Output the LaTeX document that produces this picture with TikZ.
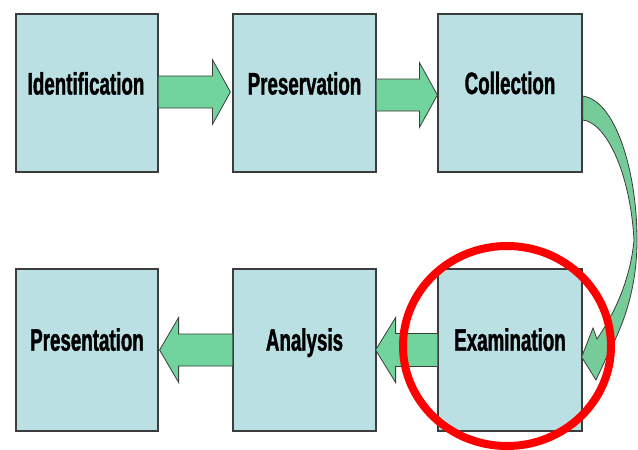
\documentclass[tikz,border=0pt]{standalone}
\usepackage{fontspec}
\newfontfamily\labfont[FakeStretch=0.605,FakeBold=1.2]{Liberation Sans}
\usetikzlibrary{calc,shapes.geometric}
\definecolor{boxfill}{RGB}{186,224,228}
\definecolor{arrowfill}{RGB}{112,212,156}
\definecolor{curvefill}{RGB}{118,204,152}
\definecolor{edgegray}{RGB}{60,60,60}
\tikzset{
  stagebox/.style={draw=edgegray, line width=1.2pt, fill=boxfill, rectangle, inner sep=0pt},
  stagelabel/.style={font=\labfont\bfseries\fontsize{31}{33}\selectfont, text=black, inner sep=0pt, anchor=base},
  blockarrow/.style={draw=edgegray, line width=0.8pt, fill=arrowfill, line join=miter},
  ring/.style={draw=red, line width=8pt}
}
\begin{document}
\begin{tikzpicture}[x=1pt,y=-1pt]
\useasboundingbox (0,0) rectangle (638,450);
% boxes (top row y 14..172, bottom row y 269..431)
\node[stagebox, minimum width=142pt, minimum height=158pt] (ident) at (87,93) {};
\node[stagebox, minimum width=143pt, minimum height=158pt] (pres) at (304.5,93) {};
\node[stagebox, minimum width=144pt, minimum height=158pt] (coll) at (510,93) {};
\node[stagebox, minimum width=142pt, minimum height=162pt] (prsn) at (87,350) {};
\node[stagebox, minimum width=143pt, minimum height=162pt] (anal) at (304.5,350) {};
\node[stagebox, minimum width=144pt, minimum height=162pt] (exam) at (510,350) {};
% labels (placed on their baselines)
\node[stagelabel] (identT) at ($(ident.center)+(-1,1.5)$) {Identification};
\node[stagelabel] (presT) at ($(pres.center)+(0,1.5)$) {Preservation};
\node[stagelabel] (collT) at ($(coll.center)+(0,1)$) {Collection};
\node[stagelabel] (prsnT) at ($(prsn.center)+(0,0.7)$) {Presentation};
\node[stagelabel] (analT) at ($(anal.center)+(0,0.7)$) {Analysis};
\node[stagelabel] (examT) at ($(exam.center)+(0,0.7)$) {Examination};
% straight block arrows
% Identification -> Preservation
\draw[blockarrow] ($(ident.east)+(0,-1-16)$) -- ($(pres.west)+(-20,-1-16)$) -- ($(pres.west)+(-20,-1-32.5)$)
  -- ($(pres.west)+(-2,-1)$) -- ($(pres.west)+(-20,-1+32.5)$) -- ($(pres.west)+(-20,-1+16)$) -- ($(ident.east)+(0,-1+16)$);
% Preservation -> Collection
\draw[blockarrow] ($(pres.east)+(0,2-16)$) -- ($(coll.west)+(-18,2-16)$) -- ($(coll.west)+(-18,2-32.5)$)
  -- ($(coll.west)+(0,2)$) -- ($(coll.west)+(-18,2+32.5)$) -- ($(coll.west)+(-18,2+16)$) -- ($(pres.east)+(0,2+16)$);
% Examination -> Analysis
\draw[blockarrow] ($(exam.west)+(0,-16.5)$) -- ($(anal.east)+(19,-16.5)$) -- ($(anal.east)+(19,-32.5)$)
  -- ($(anal.east)+(-1,0)$) -- ($(anal.east)+(19,32.5)$) -- ($(anal.east)+(19,16.5)$) -- ($(exam.west)+(0,16.5)$);
% Analysis -> Presentation
\draw[blockarrow] ($(anal.west)+(0,-16)$) -- ($(prsn.east)+(20,-16)$) -- ($(prsn.east)+(20,-32.5)$)
  -- ($(prsn.east)+(1,0)$) -- ($(prsn.east)+(20,32.5)$) -- ($(prsn.east)+(20,16)$) -- ($(anal.west)+(0,16)$);
% curved arrow Collection -> Examination
\coordinate (cA) at ($(coll.east)+(0,3)$);
\coordinate (cB) at ($(coll.east)+(0,27)$);
\coordinate (cTip) at ($(exam.east)+(-1,7)$);
\draw[blockarrow, fill=curvefill] (cA) .. controls (615,100) and (637,170) .. (637,240)
  .. controls (637,282) and (627,318) .. (609,352)
  -- (596,380) -- (cTip) -- (593,328) -- (597,339)
  .. controls (610,320) and (630,285) .. (634,240)
  .. controls (630,170) and (605,122) .. (cB) -- cycle;
% red ring
\node[ring, ellipse, minimum width=208pt, minimum height=200pt, inner sep=0pt] (ring) at (507,346) {};
\end{tikzpicture}
\end{document}
